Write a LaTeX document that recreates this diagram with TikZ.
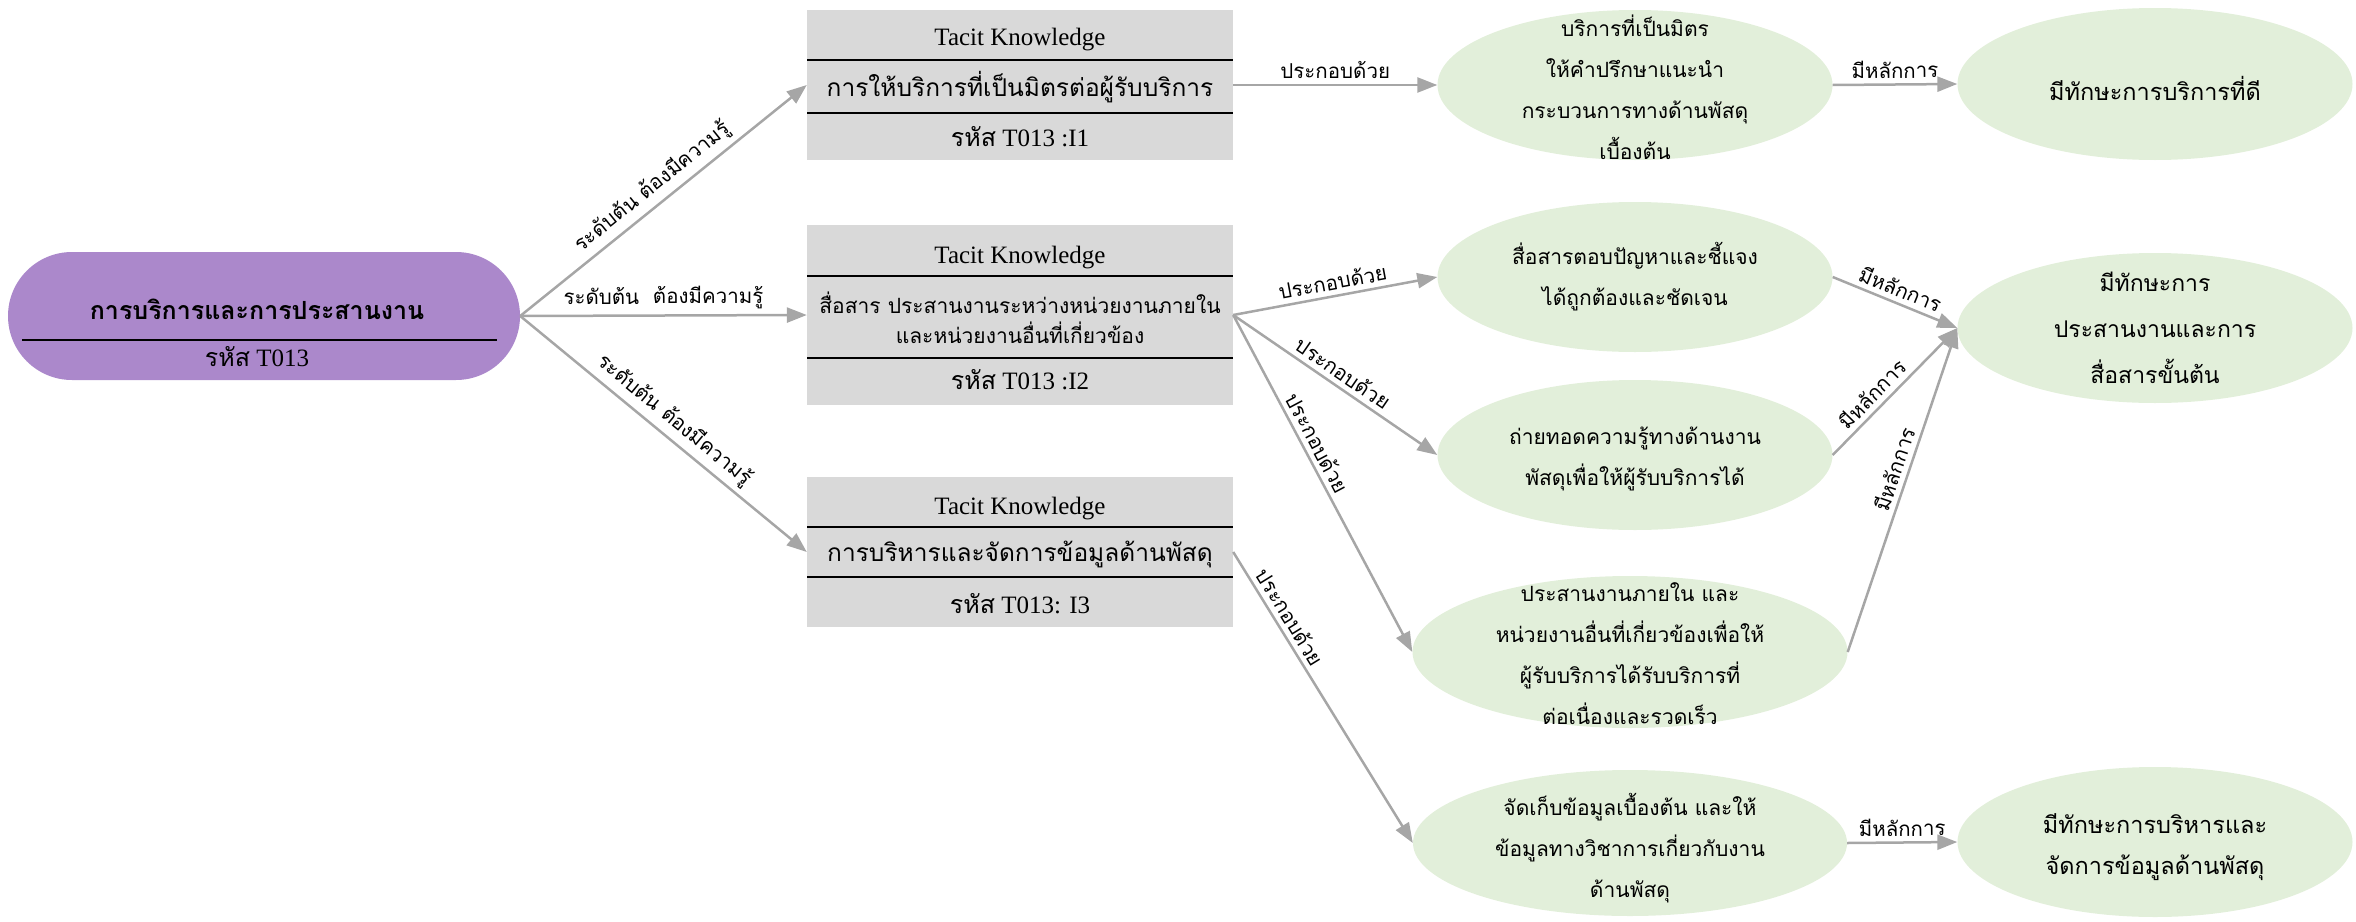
\documentclass[tikz,border=0pt]{standalone}
\usepackage{fontspec}
\setmainfont{Liberation Serif}
\newfontfamily\thaifont[Script=Thai]{Loma}
\usetikzlibrary{shapes.geometric,shapes.misc,arrows.meta}

\definecolor{pillpurple}{RGB}{171,136,203}
\definecolor{boxgray}{RGB}{217,217,217}
\definecolor{leafgreen}{RGB}{226,239,218}
\definecolor{linkgray}{RGB}{166,166,166}

\begin{document}
\begin{tikzpicture}[x=1pt,y=-1pt,
  kbox/.style={rectangle, fill=boxgray, draw=none, minimum width=426pt, inner sep=0pt},
  leaf/.style={ellipse, fill=leafgreen, draw=none, inner sep=0pt, minimum width=395pt, minimum height=150pt},
  txt/.style={align=center, inner sep=0pt, font=\thaifont\fontsize{21}{41}\selectfont},
  bigtxt/.style={align=center, inner sep=0pt, font=\thaifont\fontsize{24.5}{30}\selectfont},
  skill/.style={align=center, inner sep=0pt, font=\thaifont\fontsize{23.5}{41}\selectfont},
  lat/.style={inner sep=0pt, font=\fontsize{25}{29}\selectfont},
  link/.style={draw=linkgray, line width=2.5pt, -{Triangle[length=20pt,width=15pt]}},
  lbl/.style={font=\thaifont\fontsize{20.5}{24}\selectfont, sloped, above, inner sep=5pt},
  divider/.style={line width=1.8pt, black}
]
\path[use as bounding box] (0,0) rectangle (2356,921);

% ---- root topic ----
\node[rounded rectangle, fill=pillpurple, minimum width=512pt, minimum height=128pt, inner sep=0pt] (root) at (264,316) {};
\draw[divider] (22,340) -- (497,340);
\node[inner sep=0pt, font=\thaifont\bfseries\fontsize{25}{30}\selectfont] (roottitle) at (257,309) {การบริการและการประสานงาน};
\node[lat] (rootcode) at (257,357) {{\thaifont รหัส} T013};

% ---- knowledge boxes ----
\node[kbox, minimum height=150pt] (b1) at (1020,85) {};
\draw[divider] (807,60) -- (1233,60);
\draw[divider] (807,113) -- (1233,113);
\node[lat] (b1a) at (1020,40) {Tacit Knowledge};
\node[bigtxt] (b1b) at (1020,87) {การให้บริการที่เป็นมิตรต่อผู้รับบริการ};
\node[lat] (b1c) at (1020,137) {{\thaifont รหัส} T013 :I1};

\node[kbox, minimum height=180pt] (b2) at (1020,315) {};
\draw[divider] (807,276) -- (1233,276);
\draw[divider] (807,358) -- (1233,358);
\node[lat] (b2a) at (1020,258) {Tacit Knowledge};
\node[txt, font=\thaifont\fontsize{21}{30}\selectfont] (b2b) at (1020,318) {สื่อสาร ประสานงานระหว่างหน่วยงานภายใน\\และหน่วยงานอื่นที่เกี่ยวข้อง};
\node[lat] (b2c) at (1020,380) {{\thaifont รหัส} T013 :I2};

\node[kbox, minimum height=150pt] (b3) at (1020,552) {};
\draw[divider] (807,527) -- (1233,527);
\draw[divider] (807,577) -- (1233,577);
\node[lat] (b3a) at (1020,509) {Tacit Knowledge};
\node[bigtxt] (b3b) at (1020,554) {การบริหารและจัดการข้อมูลด้านพัสดุ};
\node[lat] (b3c) at (1020,604) {{\thaifont รหัส} T013: I3};

% ---- components ----
\node[leaf] (e1) at (1635,85) {};
\node[txt] (e1t) at (1635,87) {บริการที่เป็นมิตร\\ให้คำปรึกษาแนะนำ\\กระบวนการทางด้านพัสดุ\\เบื้องต้น};
\node[leaf] (e2) at (1635,277) {};
\node[txt] (e2t) at (1635,277) {สื่อสารตอบปัญหาและชี้แจง\\ได้ถูกต้องและชัดเจน};
\node[leaf] (e3) at (1635,455) {};
\node[txt] (e3t) at (1635,459) {ถ่ายทอดความรู้ทางด้านงาน\\พัสดุเพื่อให้ผู้รับบริการได้};
\node[leaf, minimum width=435pt, minimum height=152pt] (e4) at (1630,652) {};
\node[txt] (e4t) at (1630,654) {ประสานงานภายใน และ\\หน่วยงานอื่นที่เกี่ยวข้องเพื่อให้\\ผู้รับบริการได้รับบริการที่\\ต่อเนื่องและรวดเร็ว};
\node[leaf, minimum width=434pt, minimum height=146pt] (e5) at (1630,843) {};
\node[txt] (e5t) at (1630,848) {จัดเก็บข้อมูลเบื้องต้น และให้\\ข้อมูลทางวิชาการเกี่ยวกับงาน\\ด้านพัสดุ};

% ---- skills ----
\node[leaf, minimum height=152pt] (r1) at (2155,84) {};
\node[skill] (r1t) at (2155,88) {มีทักษะการบริการที่ดี};
\node[leaf] (r2) at (2155,328) {};
\node[skill, font=\thaifont\fontsize{23}{46}\selectfont] (r2t) at (2155,328) {มีทักษะการ\\ประสานงานและการ\\สื่อสารขั้นต้น};
\node[leaf] (r3) at (2155,842) {};
\node[skill] (r3t) at (2155,847) {มีทักษะการบริหารและ\\จัดการข้อมูลด้านพัสดุ};

% ---- connectors ----
\draw[link] (root.east) -- node[lbl] {ระดับต้น ต้องมีความรู้} (b1.west);
\draw[link] (root.east) -- node[lbl] {ระดับต้น\ \ ต้องมีความรู้} (b2.west);
\draw[link] (root.east) -- node[lbl] {ระดับต้น ต้องมีความรู้} (b3.west);

\draw[link] (b1.east) -- node[lbl] {ประกอบด้วย} (e1.west);
\draw[link] (b2.east) -- node[lbl] {ประกอบด้วย} (e2.west);
\draw[link] (b2.east) -- node[lbl, pos=.5] {ประกอบด้วย} (e3.west);
\draw[link] (b2.east) -- node[lbl, pos=.4] {ประกอบด้วย} (e4.west);
\draw[link] (b3.east) -- node[lbl, pos=.25] {ประกอบด้วย} (e5.west);

\draw[link] (e1.east) -- node[lbl] {มีหลักการ} (r1.west);
\draw[link] (e2.east) -- node[lbl] {มีหลักการ} (r2.west);
\draw[link] (e3.east) -- node[lbl, pos=.4] {มีหลักการ} (r2.west);
\draw[link] (e4.east) -- node[lbl, pos=.55] {มีหลักการ} (r2.west);
\draw[link] (e5.east) -- node[lbl] {มีหลักการ} (r3.west);
\end{tikzpicture}
\end{document}
